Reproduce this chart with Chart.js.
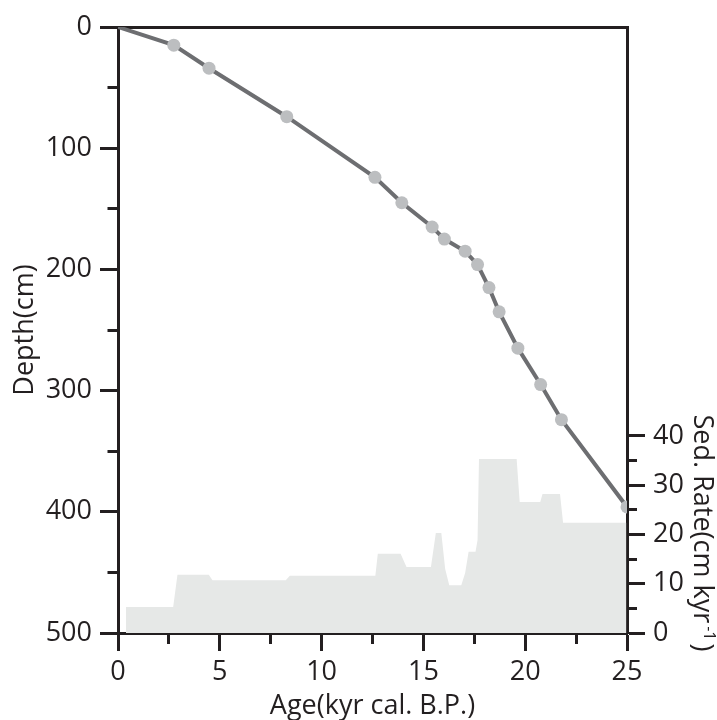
<!DOCTYPE html>
<html>
<head>
<meta charset="utf-8">
<script src="https://cdn.jsdelivr.net/npm/chart.js@4"></script>
<style>
  html, body { margin: 0; padding: 0; background: #ffffff; }
  #wrap { width: 717px; height: 720px; }
</style>
</head>
<body>
<div id="wrap"><canvas id="chart-age-depth" width="717" height="720"></canvas></div>
<script>
// age-depth model (kyr cal. B.P. vs cm)
const ages = [0, 2.74, 4.47, 8.29, 12.62, 13.94, 15.43, 16.03, 17.05, 17.66, 18.22, 18.72, 19.64, 20.76, 21.78, 25];
const depths = [0, 15, 34, 74, 124, 145, 165, 175, 185, 196, 215, 235, 265, 295, 324, 396];

// sedimentation rate (cm/kyr), stepped profile
const rateAges = [0.39, 0.39, 2.71, 2.92, 4.46, 4.64, 8.24, 8.44, 12.64, 12.76, 13.88, 14.17, 15.37, 15.61, 15.88, 16.07, 16.27, 16.86, 17.05, 17.22, 17.56, 17.66, 17.73, 19.58, 19.73, 20.74, 20.85, 21.71, 21.86, 24.97];
const rates = [0, 5.3, 5.3, 11.8, 11.8, 10.7, 10.7, 11.6, 11.6, 16.1, 16.1, 13.4, 13.4, 20.3, 20.3, 13.0, 9.7, 9.7, 12.2, 16.5, 16.5, 18.9, 35.3, 35.3, 26.6, 26.6, 28.2, 28.2, 22.4, 22.4];

// tick values
const ageTicks = [0, 5, 10, 15, 20, 25];
const depthTicks = [0, 100, 200, 300, 400, 500];
const rateTicks = [0, 10, 20, 30, 40];

const ink = '#231f20';
Chart.defaults.font.family = "'Open Sans', sans-serif";
Chart.defaults.font.weight = 500;
Chart.defaults.color = ink;

// right side title with superscript
const sideTitle = {
    id: 'sideTitle',
    afterDraw(chart) {
        const { ctx, chartArea } = chart;
        const main = 'Sed. Rate(cm kyr';
        const sup = '-1';
        const end = ')';
        ctx.save();
        ctx.fillStyle = ink;
        ctx.textBaseline = 'middle';
        ctx.translate(chart.width - 15, chartArea.bottom - 100);
        ctx.rotate(Math.PI / 2);
        ctx.font = "500 27px 'Open Sans'";
        const w1 = ctx.measureText(main).width;
        const w3 = ctx.measureText(end).width;
        ctx.font = "500 16px 'Open Sans'";
        const w2 = ctx.measureText(sup).width;
        let x = -(w1 + w2 + w3 + 6) / 2;
        ctx.font = "500 27px 'Open Sans'";
        ctx.fillText(main, x, 0);
        x += w1 + 3;
        ctx.font = "500 16px 'Open Sans'";
        ctx.fillText(sup, x, -7);
        x += w2 + 3;
        ctx.font = "500 27px 'Open Sans'";
        ctx.fillText(end, x, 0);
        ctx.restore();
    }
};

const tickFont = { size: 27, lineHeight: 1.2 };
const axisBorder = { color: ink, width: 3 };

new Chart(document.getElementById('chart-age-depth'), {
    type: 'scatter',
    data: {
        datasets: [
            {
                label: 'Age-depth',
                data: ages.map((a, i) => ({ x: a, y: depths[i] })),
                showLine: true,
                borderColor: '#6d6e71',
                borderWidth: 4,
                pointBackgroundColor: '#bcbec0',
                pointBorderWidth: 0,
                pointRadius: ctx => ctx.dataIndex === 0 ? 0 : 6.5,
                xAxisID: 'x',
                yAxisID: 'y',
                order: 1
            },
            {
                label: 'Sed. rate',
                data: rateAges.map((a, i) => ({ x: a, y: rates[i] })),
                showLine: true,
                borderWidth: 0,
                borderColor: 'rgba(0,0,0,0)',
                backgroundColor: '#e6e8e7',
                fill: 'origin',
                pointRadius: 0,
                xAxisID: 'x',
                yAxisID: 'y2',
                order: 2
            }
        ]
    },
    options: {
        responsive: false,
        animation: false,
        layout: { padding: 0 },
        plugins: {
            legend: { display: false },
            tooltip: { enabled: false }
        },
        scales: {
            x: {
                type: 'linear',
                position: 'bottom',
                min: 0,
                max: 25,
                border: axisBorder,
                grid: {
                    drawOnChartArea: false,
                    tickLength: 18,
                    tickWidth: 3,
                    tickColor: ink,
                    tickBorderDash: ctx => (ctx.tick && !ageTicks.includes(ctx.tick.value)) ? [9, 100] : []
                },
                ticks: {
                    stepSize: 2.5,
                    autoSkip: false,
                    maxRotation: 0,
                    padding: 5,
                    font: tickFont,
                    callback: v => ageTicks.includes(v) ? v : ''
                },
                title: {
                    display: true,
                    text: 'Age(kyr cal. B.P.)',
                    font: { size: 27, lineHeight: 1.0 },
                    padding: 0
                },
                afterFit: s => { s.height = 87; }
            },
            xTop: {
                type: 'linear',
                position: 'top',
                min: 0,
                max: 25,
                border: axisBorder,
                grid: { drawOnChartArea: false, drawTicks: false },
                ticks: { display: false },
                afterFit: s => { s.height = 27; }
            },
            y: {
                type: 'linear',
                position: 'left',
                reverse: true,
                min: 0,
                max: 500,
                border: axisBorder,
                grid: {
                    drawOnChartArea: false,
                    tickLength: 18,
                    tickWidth: 3,
                    tickColor: ink,
                    tickBorderDash: ctx => (ctx.tick && !depthTicks.includes(ctx.tick.value)) ? [0, 7.5, 30] : []
                },
                ticks: {
                    stepSize: 50,
                    autoSkip: false,
                    padding: 8,
                    font: tickFont,
                    callback: v => depthTicks.includes(v) ? v : ''
                },
                title: {
                    display: true,
                    text: 'Depth(cm)',
                    font: { size: 27, lineHeight: 1.2 },
                    padding: { top: 9 }
                },
                afterFit: s => { s.width = 118; }
            },
            y2: {
                type: 'linear',
                position: 'right',
                min: 0,
                max: 123,
                border: axisBorder,
                grid: {
                    drawOnChartArea: false,
                    tickLength: 18,
                    tickWidth: 3,
                    tickColor: ink,
                    tickBorderDash: ctx => (ctx.tick && !rateTicks.includes(ctx.tick.value)) ? [8, 100] : []
                },
                afterBuildTicks: s => {
                    const t = [];
                    for (let v = 0; v <= 40; v += 5) t.push({ value: v });
                    s.ticks = t;
                },
                ticks: {
                    autoSkip: false,
                    padding: 8,
                    font: tickFont,
                    callback: v => rateTicks.includes(v) ? v : ''
                },
                afterFit: s => { s.width = 90; }
            }
        }
    },
    plugins: [sideTitle]
});
</script>
</body>
</html>
